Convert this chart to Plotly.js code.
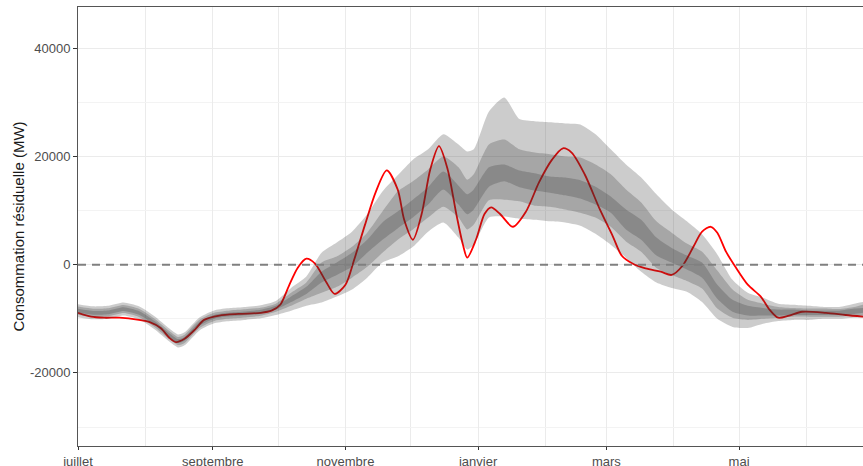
<!DOCTYPE html>
<html>
<head>
<meta charset="utf-8">
<script src="https://cdn.plot.ly/plotly-3.0.1.min.js"></script>
<style>html,body{margin:0;padding:0;background:#fff;}#chart{width:863px;height:466px;}</style>
</head>
<body>
<div id="chart"></div>
<script>
// ---- data ----
const bandDates = ['2020-07-01','2020-07-08','2020-07-15','2020-07-22','2020-07-29','2020-08-05','2020-08-12','2020-08-16','2020-08-19','2020-08-26',
 '2020-09-02','2020-09-09','2020-09-16','2020-09-23','2020-09-30','2020-10-07','2020-10-14','2020-10-21','2020-10-28','2020-11-04',
 '2020-11-11','2020-11-18','2020-11-25','2020-12-02','2020-12-09','2020-12-16','2020-12-23','2020-12-27','2020-12-30','2021-01-06',
 '2021-01-13','2021-01-20','2021-01-27','2021-02-03','2021-02-10','2021-02-17','2021-02-24','2021-03-03','2021-03-10','2021-03-17',
 '2021-03-24','2021-03-31','2021-04-07','2021-04-14','2021-04-21','2021-04-28','2021-05-05','2021-05-12','2021-05-19','2021-05-26',
 '2021-06-02','2021-06-09','2021-06-16','2021-06-23','2021-06-27'];
const outerHigh = [-7300,-7700,-7600,-7000,-7700,-9500,-11800,-12900,-12500,-9700,
 -8400,-8000,-7800,-7500,-6700,-4300,-2200,2200,4100,6100,
 9300,13500,16500,19400,21300,24100,22200,20900,21300,28300,
 30900,26900,26500,26300,26100,25900,24100,21300,18500,16100,
 13000,10200,8000,5600,1900,-2800,-5200,-6100,-7200,-7400,
 -7600,-7800,-7800,-7200,-6900];
const midHigh = [-7750,-8150,-8050,-7450,-8150,-9950,-12250,-13350,-12950,-10150,
 -8850,-8450,-8250,-7950,-7200,-5200,-3300,400,1500,3300,
 5900,9800,13500,15400,17600,20000,18000,15700,16700,22200,
 23100,21300,20700,20400,20000,19800,18500,16700,13900,11500,
 8000,5900,3900,2400,-1100,-4600,-6500,-7200,-7800,-8000,
 -8100,-8100,-8200,-7800,-7400];
const innerHigh = [-8150,-8550,-8450,-7850,-8550,-10350,-12650,-13750,-13350,-10550,
 -9250,-8850,-8650,-8350,-7600,-5900,-4100,-1300,400,2200,
 4600,7800,9800,12000,14300,17200,14600,13000,13900,18000,
 18500,17400,16900,16300,16100,15600,14400,12600,10200,8300,
 5000,3100,1700,400,-3700,-6500,-7600,-8000,-8300,-8300,
 -8500,-8500,-8500,-8100,-8000];
const innerLow = [-8850,-9250,-9150,-8550,-9250,-11050,-13350,-14450,-14050,-11250,
 -9950,-9550,-9350,-9050,-8300,-6900,-5400,-3300,-1900,-400,
 2200,4600,6700,8700,11100,13900,11100,9300,10200,14400,
 15400,14300,13700,13300,12800,12200,11100,9600,6500,4600,
 1700,400,-900,-2400,-6300,-8700,-9400,-9400,-9400,-9300,
 -9300,-9300,-9300,-9100,-8900];
const midLow = [-9250,-9650,-9550,-8950,-9650,-11450,-13750,-14850,-14450,-11650,
 -10350,-9950,-9750,-9450,-8700,-7600,-6300,-5200,-4100,-2400,
 -400,2200,4600,6500,8700,10700,8700,6500,7400,11900,
 12000,11700,10900,10700,10200,9600,8700,7000,4300,2400,
 -600,-1900,-3000,-4400,-8100,-9800,-10200,-10000,-9800,-9600,
 -9600,-9600,-9600,-9400,-9400];
const outerLow = [-9700,-10100,-10000,-9400,-10100,-11900,-14200,-15300,-14900,-12100,
 -10800,-10400,-10200,-9900,-9300,-8500,-7600,-7000,-5900,-4600,
 -2400,400,1500,3300,6100,7800,5000,2800,3700,8700,
 8900,8500,8300,8000,7800,7200,5700,3700,1300,-1300,
 -3300,-4300,-5000,-6900,-10000,-11500,-11700,-10900,-10400,-10200,
 -10200,-10000,-10000,-9800,-9800];

const obsDates = ['2020-07-01','2020-07-07','2020-07-13','2020-07-20','2020-07-29','2020-08-03','2020-08-08','2020-08-12','2020-08-15','2020-08-19',
 '2020-08-24','2020-08-28','2020-09-04','2020-09-13','2020-09-23','2020-09-28','2020-10-02','2020-10-06','2020-10-10','2020-10-14',
 '2020-10-18','2020-10-23','2020-10-27','2020-11-01','2020-11-05','2020-11-10','2020-11-15','2020-11-20','2020-11-25','2020-11-28',
 '2020-12-02','2020-12-06','2020-12-10','2020-12-14','2020-12-18','2020-12-22','2020-12-25','2020-12-27','2020-12-31','2021-01-04',
 '2021-01-07','2021-01-11','2021-01-17','2021-01-23','2021-01-29','2021-02-04','2021-02-09','2021-02-13','2021-02-19','2021-02-26',
 '2021-03-04','2021-03-08','2021-03-13','2021-03-19','2021-03-26','2021-03-31','2021-04-05','2021-04-10','2021-04-14','2021-04-18',
 '2021-04-21','2021-04-25','2021-04-29','2021-05-05','2021-05-11','2021-05-15','2021-05-19','2021-05-24','2021-05-30','2021-06-10',
 '2021-06-19','2021-06-27'];
const observed = [-8900,-9600,-9800,-9800,-10200,-10600,-11700,-13500,-14300,-13700,
 -11900,-10200,-9400,-9100,-8900,-8500,-7400,-3900,-600,1100,
 200,-3100,-5400,-3700,900,7400,13500,17400,13900,8300,
 4600,9300,17600,21900,17600,9300,3700,1300,4600,9400,
 10600,9400,7000,9800,15200,19400,21500,20700,16700,10200,
 5200,1700,200,-700,-1300,-1900,-200,3300,6100,7000,
 5900,2400,-200,-3700,-5900,-8300,-9800,-9400,-8700,-8900,
 -9300,-9600];

const xTickVals = ['2020-07-01','2020-09-01','2020-11-01','2021-01-01','2021-03-01','2021-05-01'];
const xTickText = ['juillet','septembre','novembre','janvier','mars','mai'];
const xMinorVals = ['2020-08-01','2020-10-01','2020-12-01','2021-02-01','2021-04-01','2021-06-01'];
const yTickVals = [-20000, 0, 20000, 40000];
const yTickText = ['-20000','0','20000','40000'];
const yMinorVals = [-30000, -10000, 10000, 30000];

// ---- chart ----
const yRange = [-33500, 47600];
const bandFill = 'rgba(51,51,51,0.25)';
const sp = {shape:'spline', smoothing:0.6, width:0};
function edge(y){ return {x:bandDates, y:y, yaxis:'y2', type:'scatter', mode:'lines', line:sp, hoverinfo:'skip', showlegend:false}; }
function fillEdge(y){ return {x:bandDates, y:y, yaxis:'y2', type:'scatter', mode:'lines', line:sp, fill:'tonexty', fillcolor:bandFill, hoverinfo:'skip', showlegend:false}; }

const traces = [
  {x:obsDates, y:observed, type:'scatter', mode:'lines', line:{color:'#ff0000', width:1.8, shape:'spline', smoothing:0.8}, showlegend:false},
  edge(outerLow), fillEdge(outerHigh),
  edge(midLow), fillEdge(midHigh),
  edge(innerLow), fillEdge(innerHigh)
];

const font = {family:'"Liberation Sans", Arial, sans-serif'};
const layout = {
  width:863, height:466,
  margin:{l:78, r:0, t:7, b:20},
  paper_bgcolor:'#ffffff', plot_bgcolor:'#ffffff',
  font:font,
  showlegend:false,
  xaxis:{
    type:'date', range:['2020-07-01','2021-06-27'],
    tickmode:'array', tickvals:xTickVals, ticktext:xTickText,
    ticks:'outside', ticklen:3, tickcolor:'#333333', tickwidth:1,
    tickfont:{size:13, color:'#4d4d4d'},
    showgrid:true, gridcolor:'#ebebeb', gridwidth:1,
    minor:{tickmode:'array', tickvals:xMinorVals, showgrid:true, gridcolor:'#ebebeb', gridwidth:1, ticklen:0},
    showline:true, linecolor:'#555555', linewidth:1, mirror:true,
    zeroline:false, fixedrange:true
  },
  yaxis:{
    range:yRange,
    tickmode:'array', tickvals:yTickVals, ticktext:yTickText,
    ticks:'outside', ticklen:4, tickcolor:'#333333', tickwidth:1,
    tickfont:{size:13, color:'#4d4d4d'},
    showgrid:true, gridcolor:'#ebebeb', gridwidth:1,
    minor:{tickmode:'array', tickvals:yMinorVals, showgrid:true, gridcolor:'#f3f3f3', gridwidth:1, ticklen:0},
    showline:true, linecolor:'#555555', linewidth:1,
    zeroline:false,
    title:{text:'Consommation résiduelle (MW)', font:{size:15, color:'#1a1a1a'}, standoff:1}
  },
  yaxis2:{
    range:yRange, overlaying:'y', side:'left',
    showgrid:false, zeroline:false, showline:false, showticklabels:false, ticks:''
  },
  shapes:[
    {type:'line', xref:'paper', x0:0, x1:1, yref:'y', y0:0, y1:0, layer:'above',
     line:{color:'rgb(128,128,128)', width:2, dash:'8px,6px'}}
  ]
};

Plotly.newPlot('chart', traces, layout, {displayModeBar:false, staticPlot:true});
</script>
</body>
</html>
